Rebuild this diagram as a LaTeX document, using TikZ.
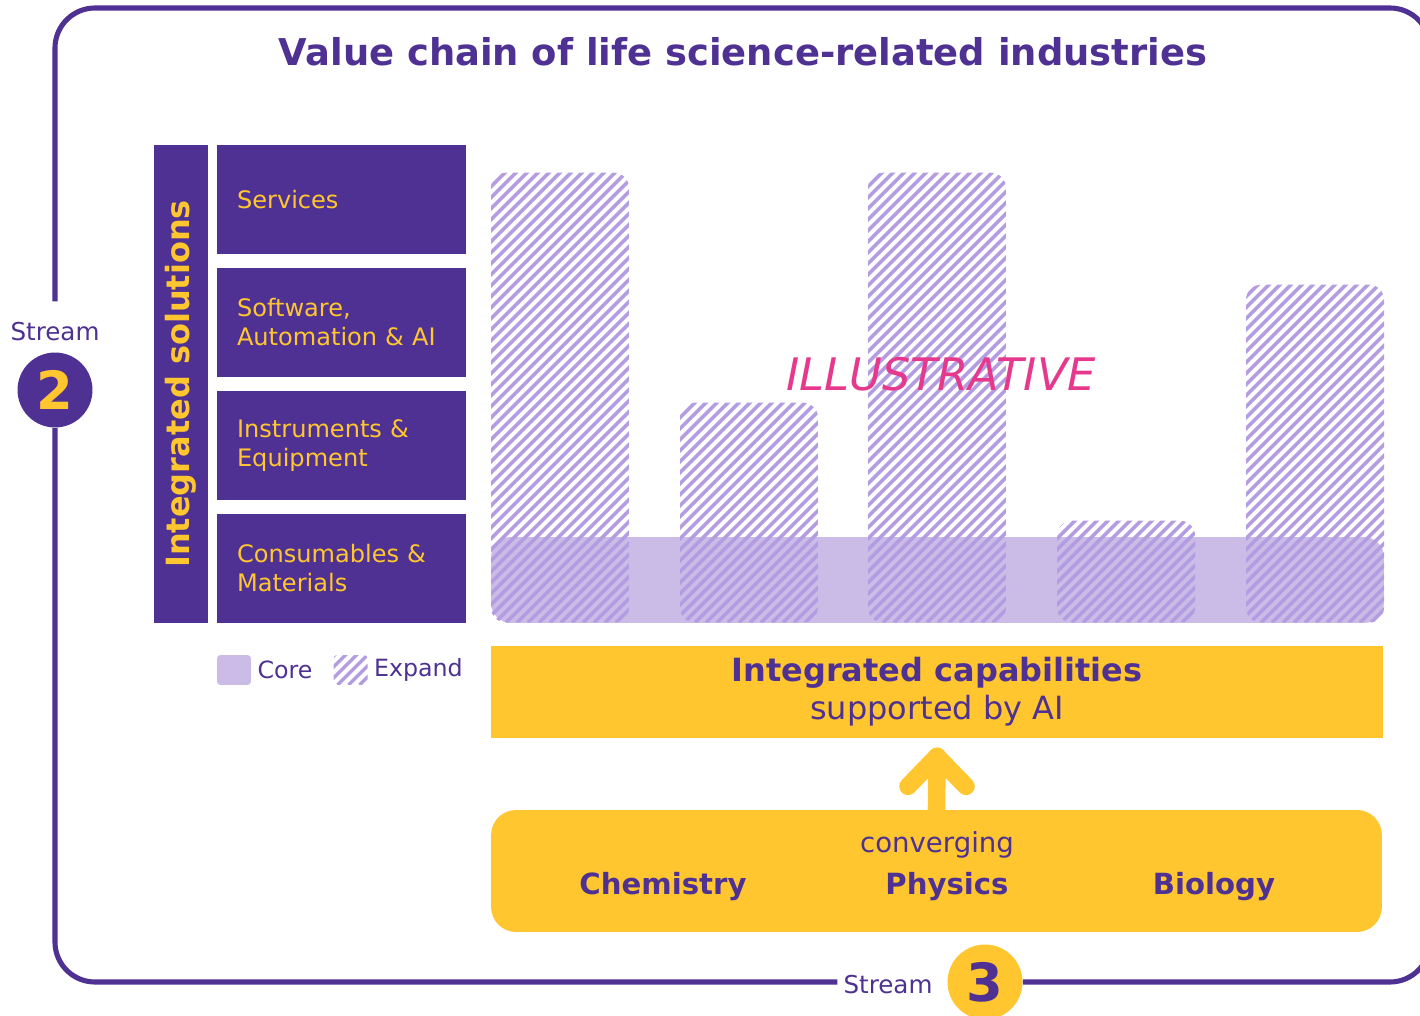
\documentclass[tikz,border=0pt]{standalone}
\usepackage{fontspec}
\setmainfont{DejaVu Sans}
\usetikzlibrary{positioning,calc}
\definecolor{vpurple}{HTML}{4E3192}
\definecolor{vyellow}{HTML}{FFC62F}
\definecolor{vlilac}{HTML}{CBBCE7}
\definecolor{vhatch}{HTML}{B39CE2}
\definecolor{vpink}{HTML}{E6388C}
\newcommand{\pxfont}[2]{\fontsize{#1pt}{#2pt}\selectfont}

\begin{document}
\begin{tikzpicture}[
    x=0.02cm, y=-0.02cm,
    frame/.style={draw=vpurple, line width=2.9pt, rounded corners=0.8cm},
    solbox/.style={rectangle, fill=vpurple, text=vyellow, minimum width=4.98cm,
                   minimum height=2.18cm, text width=4.18cm, inner xsep=0.4cm,
                   align=left, font=\pxfont{13.7}{16.5}},
    hatchline/.style={draw=vhatch, line width=2pt},
    hatched/.style={path picture={
        \foreach \hx in {0,11,...,660}
          \draw[hatchline] ($(path picture bounding box.south west)+(\hx-480,0)$) -- ++(480,-480);}},
    bar/.style={rectangle, rounded corners=0.3cm, minimum width=2.76cm,
                inner sep=0pt, anchor=south, hatched},
    legbox/.style={rectangle, rounded corners=2pt, minimum width=0.68cm,
                   minimum height=0.6cm, inner sep=0pt},
    legtext/.style={font=\pxfont{13.5}{16}, text=vpurple},
    science/.style={font=\pxfont{16.6}{19}\bfseries, text=vpurple},
    uparr/.style={draw=vyellow, line width=10pt, line cap=round, line join=round},
    numdot/.style={circle, minimum size=1.5cm, inner sep=0pt, font=\pxfont{30}{32}\bfseries}
  ]

  % ---- Canvas ----
  \fill[white] (0,0) rectangle (1420,1016);
  \useasboundingbox (0,0) rectangle (1420,1016);

  % ---- Title ----
  \node[font=\pxfont{21}{25}\bfseries, text=vpurple] (title) at (743,52)
    {Value chain of life science-related industries};

  % ---- Stream markers ----
  \node[legtext, font=\pxfont{14}{17}] (stream2) at (55,332) {Stream};
  \node[numdot, fill=vpurple, text=vyellow] (num2) at (55,390) {2};
  \node[legtext, font=\pxfont{14}{17}] (stream3) at (888,985) {Stream};
  \node[numdot, fill=vyellow, text=vpurple] (num3) at (985,982) {3};

  % ---- Outer frame ----
  \draw[frame] ([yshift=0.3cm]stream2.north) -- (55,8) -- (1430,8) -- (1430,982) -- (num3.east);
  \draw[frame] (num2.south) -- (55,982) -- (stream3.west |- num3);

  % ---- Integrated solutions column ----
  \node[rectangle, fill=vpurple, rotate=90, minimum width=9.56cm, minimum height=1.08cm,
        text=vyellow, font=\pxfont{18.2}{21}\bfseries] (intsol) at (181,384)
    {Integrated solutions};

  \node[solbox] (services) at (341.5,199.5) {Services};
  \node[solbox, below=0.265cm of services] (software) {Software,\\Automation \& AI};
  \node[solbox, below=0.265cm of software] (instruments) {Instruments \&\\Equipment};
  \node[solbox, below=0.265cm of instruments] (consumables) {Consumables \&\\Materials};

  % ---- Core band and expand bars ----
  \node[rectangle, rounded corners=0.4cm, fill=vlilac, minimum width=17.86cm,
        minimum height=1.72cm] (core) at (937.5,580) {};

  \node[bar, minimum height=9cm]    (bar1) at (560,623) {};
  \node[bar, minimum height=4.4cm]  (bar2) at (749,623) {};
  \node[bar, minimum height=9cm]    (bar3) at (937,623) {};
  \node[bar, minimum height=2.04cm] (bar4) at (1126,623) {};
  \node[bar, minimum height=6.76cm] (bar5) at (1315,623) {};

  \node[font=\pxfont{25.5}{30}\itshape, text=vpink] (illus) at (941,374) {ILLUSTRATIVE};

  % ---- Legend ----
  \node[legbox, fill=vlilac] (legcore) at (234,670) {};
  \node[legtext, right=0pt of legcore] (corelbl) {Core};
  \node[legbox, hatched] (legexp) at (350.5,670) {};
  \node[legtext, right=0pt of legexp] (explbl) {Expand};

  % ---- Capabilities ----
  \node[rectangle, fill=vyellow, minimum width=17.84cm, minimum height=1.84cm,
        text=vpurple, align=center, font=\pxfont{18.2}{21.6}] (capab) at (937,692)
    {{\bfseries Integrated capabilities}\\supported by AI};

  \node[rectangle, rounded corners=0.5cm, fill=vyellow, minimum width=17.82cm,
        minimum height=2.44cm] (base) at (936.5,871) {};
  \node[font=\pxfont{15.7}{18}, text=vpurple] (conv) at (937,845) {converging};
  \node[science] (chem) at (663,887) {Chemistry};
  \node[science] (phys) at (947,887) {Physics};
  \node[science] (bio)  at (1214,887) {Biology};

  % ---- Arrow up to capabilities ----
  \coordinate (tip) at ([yshift=-0.36cm]capab.south);
  \draw[uparr] (base.north) -- (tip);
  \draw[uparr] ([shift={(-29,30)}]tip) -- (tip) -- ([shift={(29,30)}]tip);

\end{tikzpicture}
\end{document}
